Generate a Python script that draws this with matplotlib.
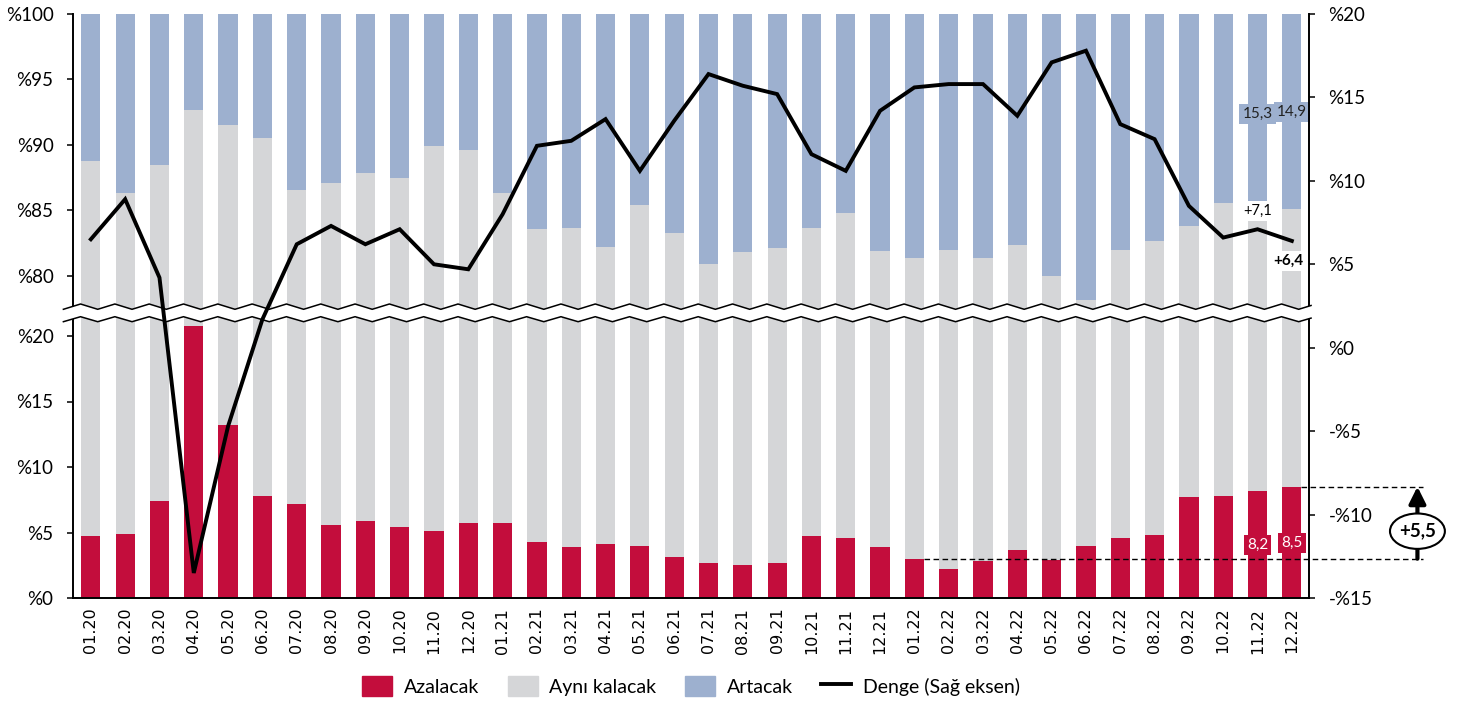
import numpy as np
import matplotlib
matplotlib.use('Agg')
import matplotlib.pyplot as plt
from matplotlib.patches import Patch, Ellipse, Polygon
from matplotlib.lines import Line2D
import matplotlib.transforms as mtransforms

plt.rcParams['font.family'] = ['Lato', 'DejaVu Sans']

months = ['01.20', '02.20', '03.20', '04.20', '05.20', '06.20', '07.20', '08.20', '09.20', '10.20', '11.20', '12.20',
          '01.21', '02.21', '03.21', '04.21', '05.21', '06.21', '07.21', '08.21', '09.21', '10.21', '11.21', '12.21',
          '01.22', '02.22', '03.22', '04.22', '05.22', '06.22', '07.22', '08.22', '09.22', '10.22', '11.22', '12.22']

azalacak = [4.7, 4.9, 7.4, 20.8, 13.2, 7.8, 7.2, 5.6, 5.9, 5.4, 5.1, 5.7,
            5.7, 4.3, 3.9, 4.1, 4.0, 3.1, 2.7, 2.5, 2.7, 4.7, 4.6, 3.9,
            3.0, 2.2, 2.8, 3.7, 2.9, 4.0, 4.6, 4.8, 7.7, 7.8, 8.2, 8.5]
ayni = [84.1, 81.4, 81.1, 71.9, 78.3, 82.7, 79.4, 81.5, 82.0, 82.1, 84.8, 83.9,
        80.6, 79.3, 79.8, 78.1, 81.4, 80.2, 78.2, 79.3, 79.4, 79.0, 80.2, 78.0,
        78.4, 79.8, 78.6, 78.7, 77.1, 74.2, 77.4, 77.9, 76.1, 77.8, 76.5, 76.6]
artacak = [11.2, 13.7, 11.5, 7.3, 8.5, 9.5, 13.4, 12.9, 12.1, 12.5, 10.1, 10.4,
           13.7, 16.4, 16.3, 17.8, 14.6, 16.7, 19.1, 18.2, 17.9, 16.3, 15.2, 18.1,
           18.6, 18.0, 18.6, 17.6, 20.0, 21.8, 18.0, 17.3, 16.2, 14.4, 15.3, 14.9]
denge = [6.5, 8.9, 4.2, -13.5, -4.7, 1.7, 6.2, 7.3, 6.2, 7.1, 5.0, 4.7,
         8.0, 12.1, 12.4, 13.7, 10.6, 13.6, 16.4, 15.7, 15.2, 11.6, 10.6, 14.2,
         15.6, 15.8, 15.8, 13.9, 17.1, 17.8, 13.4, 12.5, 8.5, 6.6, 7.1, 6.4]

left_ticks_top = [80, 85, 90, 95, 100]
left_ticks_bot = [0, 5, 10, 15, 20]
right_ticks = [-15, -10, -5, 0, 5, 10, 15, 20]

RED = '#C30D3C'
GRAY = '#D5D6D8'
BLUE = '#9DB0CF'

W, H = 1459, 702
fig = plt.figure(figsize=(W / 100, H / 100), dpi=100)

# layout in pixels
x0, x1 = 73, 1309
y_top, y_bot, y_mid = 14, 598, 313
ppu = 13.1  # pixels per percent on left axis

def fx(p):
    return p / W

def fy(p):
    return 1 - p / H

ax_top = fig.add_axes([fx(x0), fy(y_mid), fx(x1 - x0), fy(y_top) - fy(y_mid)])
ax_bot = fig.add_axes([fx(x0), fy(y_bot), fx(x1 - x0), fy(y_mid) - fy(y_bot)])
ax_line = fig.add_axes([fx(x0), fy(y_bot), fx(x1 - x0), fy(y_top) - fy(y_bot)])
ax_line.set_zorder(5)
ax_line.patch.set_visible(False)

x = np.arange(len(months))
az = np.array(azalacak)
ay = np.array(ayni)
ar = np.array(artacak)
bw = 0.56

for ax in (ax_top, ax_bot):
    ax.bar(x, az, bw, color=RED, zorder=2)
    ax.bar(x, ay, bw, bottom=az, color=GRAY, zorder=2)
    ax.bar(x, ar, bw, bottom=az + ay, color=BLUE, zorder=2)
    ax.set_xlim(-0.52, 35.5)
    for s in ('top', 'right'):
        ax.spines[s].set_visible(False)
    ax.spines['left'].set_linewidth(1.4)
    ax.tick_params(axis='y', length=4.5, width=1.1, pad=9.5, labelsize=13.5)

ax_top.set_ylim(100 - (y_mid - y_top) / ppu, 100)
ax_top.spines['bottom'].set_visible(False)
ax_top.set_xticks([])
ax_top.set_yticks(left_ticks_top)
ax_top.set_yticklabels(['%' + str(v) for v in left_ticks_top])

ax_bot.set_ylim(0, (y_bot - y_mid) / ppu)
ax_bot.spines['bottom'].set_linewidth(1.4)
ax_bot.set_yticks(left_ticks_bot)
ax_bot.set_yticklabels(['%' + str(v) for v in left_ticks_bot])
ax_bot.set_xticks(x)
ax_bot.set_xticklabels(months, rotation=90, fontsize=11.5, family='DejaVu Sans')
ax_bot.tick_params(axis='x', length=0, pad=7)

# balance line on the right axis
ax_line.plot(x, denge, color='black', lw=2.8, zorder=3, solid_joinstyle='miter')
ax_line.set_xlim(-0.52, 35.5)
ax_line.set_ylim(-15, 20)
ax_line.set_xticks([])
ax_line.yaxis.tick_right()
ax_line.set_yticks(right_ticks)
ax_line.set_yticklabels([('-%' + str(-v)) if v < 0 else ('%' + str(v)) for v in right_ticks])
ax_line.tick_params(axis='y', length=4.5, width=1.1, pad=9.5, labelsize=13.5)
for s in ('top', 'left', 'bottom'):
    ax_line.spines[s].set_visible(False)
ax_line.spines['right'].set_linewidth(1.4)

# axis break band
trans = mtransforms.blended_transform_factory(ax_line.transData, fig.transFigure)
zx = list(np.arange(-0.8, 35.3, 0.5)) + [35.56]
up = [309.3 if i % 2 == 0 else 304.0 for i in range(len(zx) - 1)]
lo = [321.7 if i % 2 == 0 else 316.7 for i in range(len(zx) - 1)]
up.append(np.interp(0.36, [0, 0.5], [up[-1], 309.3 if len(up) % 2 == 0 else 304.0]))
lo.append(np.interp(0.36, [0, 0.5], [lo[-1], 321.7 if len(lo) % 2 == 0 else 316.7]))
up_f = [fy(v) for v in up]
lo_f = [fy(v) for v in lo]
band = Polygon(list(zip(zx, up_f)) + list(zip(zx[::-1], lo_f[::-1])), closed=True,
               facecolor='white', edgecolor='none', transform=trans, clip_on=False, zorder=2.6)
ax_line.add_patch(band)
ax_line.add_line(Line2D(zx, up_f, color='black', lw=1.1, transform=trans, clip_on=False, zorder=2.7))
ax_line.add_line(Line2D(zx, lo_f, color='black', lw=1.1, transform=trans, clip_on=False, zorder=2.7))

# value labels
ax_top.text(34, 92.4, '15,3', ha='center', va='center', fontsize=11, color='#222222', zorder=4,
            bbox=dict(boxstyle='square,pad=0.2', fc=BLUE, ec='none'))
ax_top.text(35, 92.5, '14,9', ha='center', va='center', fontsize=11, color='#222222', zorder=4,
            bbox=dict(boxstyle='square,pad=0.2', fc=BLUE, ec='none'))
ax_line.text(34, 8.2, '+7,1', ha='center', va='center', fontsize=10.5, zorder=4,
             bbox=dict(boxstyle='square,pad=0.2', fc='white', ec='none'))
ax_line.text(34.9, 5.2, '+6,4', ha='center', va='center', fontsize=11, fontweight='bold', zorder=4,
             bbox=dict(boxstyle='square,pad=0.2', fc='white', ec='none'))
ax_bot.text(34, 4.05, '8,2', ha='center', va='center', fontsize=11, color='white', zorder=4,
            bbox=dict(boxstyle='square,pad=0.2', fc=RED, ec='none'))
ax_bot.text(35, 4.2, '8,5', ha='center', va='center', fontsize=11, color='white', zorder=4,
            bbox=dict(boxstyle='square,pad=0.2', fc=RED, ec='none'))

# change annotation on the right
ax_x = 38.66
ax_bot.plot([24 + bw / 2, 38.83], [azalacak[24], azalacak[24]], color='black', lw=1,
            ls=(0, (4, 2.5)), clip_on=False, zorder=3)
ax_bot.plot([35 + bw / 2, 38.83], [azalacak[35], azalacak[35]], color='black', lw=1,
            ls=(0, (4, 2.5)), clip_on=False, zorder=3)
ax_bot.annotate('', xy=(ax_x, azalacak[35]), xytext=(ax_x, azalacak[24]), annotation_clip=False,
                arrowprops=dict(arrowstyle='-|>', lw=3, color='black', mutation_scale=25,
                                shrinkA=0, shrinkB=0), zorder=4)
ax_bot.add_patch(Ellipse((ax_x, 5.1), 1.6, 2.7, facecolor='white', edgecolor='black', lw=1.5,
                         clip_on=False, zorder=5))
ax_bot.text(ax_x, 5.1, '+5,5', ha='center', va='center', fontsize=13.5, fontweight='bold', zorder=6)

handles = [Patch(color=RED), Patch(color=GRAY), Patch(color=BLUE),
           Line2D([], [], color='black', lw=2.8)]
labels = ['Azalacak', 'Aynı kalacak', 'Artacak', 'Denge (Sağ eksen)']
fig.legend(handles, labels, loc='center', bbox_to_anchor=(fx(691), fy(686)), ncol=4, frameon=False,
           fontsize=14, handlelength=1.55, handleheight=1.15, handletextpad=0.6, columnspacing=1.45)

fig.savefig('out.png', dpi=100)
